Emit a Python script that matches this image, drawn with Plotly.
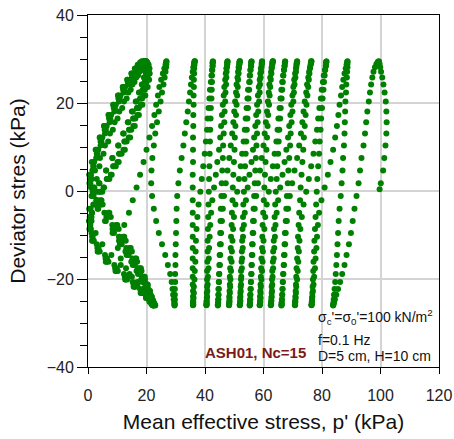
import plotly.graph_objects as go

# Deviator stress sampled through one unloading half-cycle (peak -> trough), kPa.
# Three sample phases, since the logger clock drifts against the loading period.
Q_UNLOAD = [29.5, 29.35, 28.89, 28.14, 27.10, 25.78, 24.20, 22.37, 20.32, 18.06,
            15.63, 13.04, 10.33, 7.52, 4.65, 1.75, -1.15, -4.02, -6.83, -9.54,
            -12.13, -14.56, -16.82, -18.87, -20.70, -22.28, -23.60, -24.64, -25.39, -25.85]
Q_RELOAD = [-26.0, -25.85, -25.39, -24.64, -23.60, -22.28, -20.70, -18.87, -16.82, -14.56,
            -12.13, -9.54, -6.83, -4.02, -1.15, 1.75, 4.65, 7.52, 10.33, 13.04,
            15.63, 18.06, 20.32, 22.37, 24.20, 25.78, 27.10, 28.14, 28.89, 29.35]
Q_UNLOAD_B = [29.48, 29.23, 28.68, 27.83, 26.69, 25.28, 23.62, 21.71, 19.59, 17.27,
              14.78, 12.15, 9.40, 6.57, 3.69, 0.78, -2.11, -4.96, -7.74, -10.42,
              -12.95, -15.34, -17.53, -19.51, -21.25, -22.75, -23.98, -24.93, -25.58, -25.93]
Q_RELOAD_B = [-25.98, -25.73, -25.18, -24.33, -23.19, -21.78, -20.12, -18.21, -16.09, -13.77,
              -11.28, -8.65, -5.90, -3.07, -0.19, 2.72, 5.61, 8.46, 11.24, 13.92,
              16.45, 18.84, 21.03, 23.01, 24.75, 26.25, 27.48, 28.43, 29.08, 29.43]
Q_UNLOAD_C = [29.43, 29.08, 28.43, 27.48, 26.25, 24.75, 23.01, 21.03, 18.84, 16.45,
              13.92, 11.24, 8.46, 5.61, 2.72, -0.19, -3.07, -5.90, -8.65, -11.28,
              -13.77, -16.09, -18.21, -20.12, -21.78, -23.19, -24.33, -25.18, -25.73, -25.98]
Q_RELOAD_C = [-25.93, -25.58, -24.93, -23.98, -22.75, -21.25, -19.51, -17.53, -15.34, -12.95,
              -10.42, -7.74, -4.96, -2.11, 0.78, 3.69, 6.57, 9.40, 12.15, 14.78,
              17.27, 19.59, 21.71, 23.62, 25.28, 26.69, 27.83, 28.68, 29.23, 29.48]

# First loading quarter-cycle from the consolidated state
Q_FIRST = [0.4, 1.75, 4.65, 7.52, 10.33, 13.04, 15.63, 18.06, 20.32, 22.37,
           24.20, 25.78, 27.10, 28.14, 28.89, 29.35]
P_FIRST = [99.7, 100.1, 100.9, 101.3, 101.7, 102.0, 102.1, 102.0, 101.8, 101.4,
           101.0, 100.6, 100.2, 99.9, 99.7, 99.5]

# Mean effective stress p' (kPa) along each half-cycle
C01_UNLOAD = [99.4, 99.1, 98.6, 98.1, 97.6, 97.2, 96.8, 96.4, 96.0, 95.5, 95.1, 94.7, 94.2, 93.5, 93.0,
              92.5, 91.8, 91.1, 90.5, 89.9, 89.2, 88.4, 87.7, 86.9, 86.2, 85.5, 84.9, 84.4, 84.1, 83.9]
C01_RELOAD = [83.8, 83.8, 83.9, 84.0, 84.1, 84.3, 84.5, 84.7, 84.9, 85.1, 85.3, 85.5, 85.7, 86.0, 86.4,
              86.7, 87.0, 87.2, 87.5, 87.7, 87.8, 87.9, 88.0, 88.2, 88.3, 88.5, 88.6, 88.7, 88.7, 88.7]
C02_UNLOAD = [88.7, 88.6, 88.4, 88.1, 87.7, 87.3, 86.9, 86.5, 86.0, 85.6, 85.1, 84.5, 83.8, 82.9, 82.0,
              80.9, 79.8, 79.0, 78.6, 78.3, 78.1, 77.8, 77.6, 77.3, 77.1, 76.9, 76.7, 76.6, 76.5, 76.4]
C02_RELOAD = [76.4, 76.5, 76.5, 76.6, 76.7, 76.8, 76.9, 77.0, 77.1, 77.3, 77.4, 77.6, 77.8, 78.0, 78.2,
              78.4, 78.7, 79.0, 79.2, 79.5, 79.7, 80.0, 80.2, 80.5, 80.7, 80.9, 81.1, 81.3, 81.4, 81.5]
C03_UNLOAD = [81.5, 81.4, 81.3, 81.0, 80.6, 80.3, 79.9, 79.6, 79.1, 78.7, 78.3, 77.7, 77.1, 76.3, 75.5,
              74.6, 73.7, 73.1, 72.6, 72.3, 72.1, 71.9, 71.7, 71.5, 71.2, 71.1, 71.0, 70.9, 70.8, 70.8]
C03_RELOAD = [70.7, 70.8, 70.8, 70.9, 71.0, 71.1, 71.2, 71.3, 71.5, 71.7, 71.8, 72.0, 72.2, 72.5, 72.7,
              73.0, 73.3, 73.6, 73.8, 74.1, 74.4, 74.7, 75.0, 75.3, 75.5, 75.7, 75.9, 76.1, 76.2, 76.3]
C04_UNLOAD = [76.4, 76.3, 76.2, 75.9, 75.6, 75.3, 74.9, 74.6, 74.1, 73.7, 73.3, 72.8, 72.2, 71.5, 70.6,
              69.8, 69.0, 68.4, 68.0, 67.6, 67.4, 67.2, 67.0, 66.8, 66.6, 66.5, 66.4, 66.3, 66.2, 66.2]
C04_RELOAD = [66.1, 66.2, 66.2, 66.3, 66.4, 66.5, 66.6, 66.7, 66.9, 67.0, 67.2, 67.3, 67.6, 67.8, 68.0,
              68.3, 68.5, 68.8, 69.1, 69.3, 69.6, 69.9, 70.2, 70.4, 70.6, 70.9, 71.1, 71.2, 71.3, 71.5]
C05_UNLOAD = [71.5, 71.4, 71.3, 71.1, 70.8, 70.5, 70.2, 69.9, 69.5, 69.2, 68.8, 68.4, 67.8, 67.2, 66.5,
              65.7, 65.0, 64.5, 64.1, 63.9, 63.7, 63.5, 63.3, 63.1, 63.0, 62.9, 62.8, 62.7, 62.6, 62.5]
C05_RELOAD = [62.5, 62.6, 62.6, 62.7, 62.8, 62.8, 62.9, 63.0, 63.2, 63.3, 63.5, 63.6, 63.8, 64.0, 64.2,
              64.5, 64.7, 65.0, 65.2, 65.4, 65.7, 65.9, 66.2, 66.4, 66.6, 66.8, 67.0, 67.2, 67.3, 67.4]
C06_UNLOAD = [67.4, 67.3, 67.2, 67.0, 66.7, 66.4, 66.1, 65.8, 65.5, 65.1, 64.8, 64.4, 63.8, 63.2, 62.5,
              61.8, 61.1, 60.6, 60.3, 60.0, 59.8, 59.7, 59.5, 59.3, 59.1, 59.0, 59.0, 58.9, 58.8, 58.7]
C06_RELOAD = [58.7, 58.8, 58.8, 58.8, 58.9, 59.0, 59.1, 59.2, 59.3, 59.5, 59.6, 59.7, 59.9, 60.1, 60.3,
              60.5, 60.7, 61.0, 61.2, 61.4, 61.6, 61.9, 62.1, 62.3, 62.5, 62.7, 62.8, 63.0, 63.1, 63.2]
C07_UNLOAD = [63.2, 63.1, 63.0, 62.8, 62.6, 62.3, 62.0, 61.8, 61.5, 61.2, 60.8, 60.4, 60.0, 59.4, 58.8,
              58.1, 57.5, 57.0, 56.7, 56.5, 56.3, 56.2, 56.0, 55.9, 55.7, 55.6, 55.5, 55.5, 55.4, 55.3]
C07_RELOAD = [55.3, 55.3, 55.4, 55.4, 55.5, 55.6, 55.7, 55.8, 55.9, 56.0, 56.1, 56.3, 56.4, 56.6, 56.8,
              57.0, 57.2, 57.4, 57.6, 57.8, 58.0, 58.2, 58.5, 58.7, 58.8, 59.0, 59.2, 59.3, 59.4, 59.5]
C08_UNLOAD = [59.5, 59.4, 59.4, 59.1, 58.9, 58.7, 58.4, 58.1, 57.8, 57.5, 57.2, 56.8, 56.4, 55.9, 55.2,
              54.6, 54.0, 53.6, 53.3, 53.0, 52.9, 52.7, 52.6, 52.4, 52.3, 52.2, 52.1, 52.1, 52.0, 51.9]
C08_RELOAD = [51.9, 51.9, 52.0, 52.0, 52.1, 52.2, 52.3, 52.3, 52.5, 52.6, 52.7, 52.8, 53.0, 53.1, 53.3,
              53.5, 53.7, 53.9, 54.1, 54.3, 54.5, 54.7, 54.9, 55.1, 55.3, 55.4, 55.6, 55.7, 55.8, 55.9]
C09_UNLOAD = [55.9, 55.8, 55.8, 55.5, 55.3, 55.1, 54.7, 54.5, 54.2, 53.9, 53.6, 53.2, 52.7, 52.2, 51.6,
              51.0, 50.4, 49.9, 49.6, 49.4, 49.2, 49.1, 48.9, 48.7, 48.6, 48.5, 48.4, 48.4, 48.3, 48.2]
C09_RELOAD = [48.2, 48.2, 48.3, 48.3, 48.4, 48.5, 48.5, 48.6, 48.7, 48.8, 48.9, 49.1, 49.2, 49.4, 49.5,
              49.7, 49.9, 50.1, 50.2, 50.4, 50.6, 50.8, 51.0, 51.2, 51.3, 51.5, 51.6, 51.7, 51.8, 51.9]
C10_UNLOAD = [51.9, 51.8, 51.8, 51.5, 51.3, 51.1, 50.8, 50.6, 50.3, 50.0, 49.7, 49.3, 48.8, 48.3, 47.7,
              47.1, 46.5, 46.1, 45.8, 45.5, 45.4, 45.2, 45.1, 44.9, 44.8, 44.7, 44.6, 44.6, 44.5, 44.4]
C10_RELOAD = [44.4, 44.4, 44.5, 44.5, 44.6, 44.6, 44.7, 44.8, 44.9, 45.0, 45.1, 45.2, 45.3, 45.4, 45.6,
              45.7, 45.9, 46.1, 46.2, 46.4, 46.6, 46.7, 46.9, 47.0, 47.2, 47.3, 47.4, 47.5, 47.6, 47.7]
C11_UNLOAD = [47.7, 47.6, 47.6, 47.3, 47.1, 46.9, 46.6, 46.4, 46.1, 45.8, 45.5, 45.2, 44.8, 44.2, 43.7,
              43.1, 42.5, 42.1, 41.8, 41.6, 41.4, 41.3, 41.2, 41.0, 40.9, 40.8, 40.7, 40.6, 40.6, 40.5]
C11_RELOAD = [40.5, 40.5, 40.5, 40.6, 40.6, 40.7, 40.7, 40.7, 40.8, 40.9, 40.9, 41.0, 41.1, 41.2, 41.3,
              41.4, 41.5, 41.6, 41.7, 41.8, 41.9, 42.0, 42.2, 42.3, 42.4, 42.4, 42.5, 42.6, 42.6, 42.7]
C12_UNLOAD = [42.7, 42.6, 42.6, 42.4, 42.2, 42.0, 41.7, 41.5, 41.2, 40.9, 40.7, 40.3, 39.9, 39.4, 38.9,
              38.4, 37.8, 37.4, 37.1, 36.9, 36.8, 36.7, 36.5, 36.4, 36.2, 36.2, 36.1, 36.0, 36.0, 35.9]
C12_RELOAD = [35.9, 35.9, 35.9, 35.9, 35.9, 35.8, 35.8, 35.8, 35.8, 35.8, 35.8, 35.8, 35.8, 35.8, 35.8,
              35.8, 35.9, 35.9, 35.9, 36.0, 36.0, 36.1, 36.1, 36.2, 36.2, 36.3, 36.3, 36.4, 36.4, 36.5]
C13_UNLOAD = [36.5, 36.4, 36.2, 36.0, 35.8, 35.5, 35.2, 34.9, 34.5, 34.1, 33.6, 33.1, 32.6, 32.0, 31.4,
              30.9, 30.5, 30.3, 30.2, 30.1, 30.0, 29.9, 29.9, 29.8, 29.8, 29.7, 29.7, 29.7, 29.6, 29.6]
C13_RELOAD = [29.6, 29.6, 29.5, 29.3, 29.1, 28.9, 28.6, 28.1, 27.3, 26.4, 25.3, 24.2, 23.3, 22.5, 21.9,
              21.6, 21.7, 22.0, 22.5, 23.0, 23.6, 24.2, 24.8, 25.3, 25.8, 26.2, 26.5, 26.7, 26.8, 26.8]
C14_UNLOAD = [26.8, 26.7, 26.5, 26.1, 25.6, 25.0, 24.4, 23.9, 23.3, 22.7, 21.9, 21.0, 20.0, 19.0, 17.8,
              16.6, 15.3, 14.0, 12.4, 10.6, 10.2, 11.2, 13.0, 15.0, 16.9, 18.6, 20.0, 21.1, 21.9, 22.3]
C14_RELOAD = [22.5, 22.4, 22.1, 21.5, 20.7, 19.6, 18.2, 16.6, 14.8, 12.8, 10.6, 8.4, 6.3, 4.5, 3.3,
              3.0, 3.9, 5.3, 6.9, 8.5, 10.1, 11.7, 13.2, 14.6, 15.9, 17.1, 18.1, 18.9, 19.5, 19.9]

# Post-liquefaction butterfly loops
B1_UNLOAD = [20.0, 20.2, 20.4, 20.5, 20.4, 20.0, 19.4, 18.5, 17.4, 16.2, 14.8, 13.2, 11.5, 9.5, 7.3,
             4.9, 2.6, 1.2, 1.0, 2.0, 4.0, 7.0, 10.2, 13.4, 16.2, 18.5, 20.2, 21.3, 22.0, 22.4]
B1_RELOAD = [22.5, 22.4, 22.1, 21.7, 21.1, 20.3, 19.2, 17.8, 16.2, 14.3, 12.1, 9.6, 6.9, 4.2, 1.9,
             0.9, 2.1, 3.5, 4.9, 6.4, 7.9, 9.5, 11.1, 12.7, 14.2, 15.6, 16.8, 17.8, 18.6, 19.3]
B2_UNLOAD = [19.6, 19.8, 19.9, 19.9, 19.6, 19.1, 18.4, 17.4, 16.3, 15.0, 13.6, 12.0, 10.3, 8.3, 6.2,
             3.9, 1.9, 0.9, 1.2, 2.6, 4.9, 8.0, 11.2, 14.2, 16.9, 19.0, 20.6, 21.7, 22.4, 22.8]
B2_RELOAD = [23.0, 22.9, 22.6, 22.1, 21.4, 20.5, 19.3, 17.8, 16.0, 13.9, 11.5, 8.9, 6.1, 3.5, 1.5,
             0.8, 2.4, 4.1, 5.8, 7.5, 9.1, 10.7, 12.3, 13.8, 15.2, 16.5, 17.6, 18.5, 19.1, 19.5]
B3_UNLOAD = [19.8, 20.1, 20.6, 21.0, 21.1, 20.9, 20.4, 19.6, 18.6, 17.4, 16.0, 14.4, 12.6, 10.5, 8.1,
             5.5, 3.0, 1.4, 0.8, 1.4, 3.2, 6.0, 9.3, 12.6, 15.6, 18.1, 19.9, 21.1, 21.8, 22.2]
B3_RELOAD = [22.3, 22.2, 22.0, 21.6, 21.1, 20.4, 19.5, 18.3, 16.8, 15.0, 12.9, 10.5, 7.8, 5.0, 2.5,
             1.3, 1.9, 3.0, 4.3, 5.7, 7.2, 8.8, 10.4, 12.0, 13.6, 15.1, 16.4, 17.5, 18.4, 19.1]
B4_UNLOAD = [19.6, 19.9, 20.2, 20.3, 20.1, 19.6, 18.9, 18.0, 16.9, 15.6, 14.2, 12.6, 10.8, 8.8, 6.6,
             4.2, 2.1, 0.8, 0.6, 1.5, 3.4, 6.3, 9.6, 12.9, 15.9, 18.3, 20.1, 21.3, 22.0, 22.5]
B4_RELOAD = [22.6, 22.5, 22.2, 21.8, 21.2, 20.4, 19.4, 18.1, 16.5, 14.6, 12.4, 10.0, 7.3, 4.6, 2.2,
             1.0, 1.7, 2.8, 4.1, 5.5, 7.0, 8.6, 10.3, 11.9, 13.5, 15.0, 16.3, 17.4, 18.3, 19.0]
B5_UNLOAD = [19.2, 19.5, 19.8, 19.9, 19.7, 19.3, 18.6, 17.7, 16.6, 15.3, 13.8, 12.2, 10.4, 8.4, 6.2,
             3.8, 1.6, 0.4, 0.3, 1.2, 3.0, 5.8, 9.0, 12.3, 15.3, 17.8, 19.7, 21.0, 21.8, 22.2]
B5_RELOAD = [22.3, 22.2, 21.9, 21.4, 20.7, 19.8, 18.6, 17.1, 15.3, 13.2, 10.9, 8.4, 5.8, 3.3, 1.2,
             0.5, 1.5, 2.8, 4.3, 5.8, 7.4, 9.0, 10.6, 12.2, 13.7, 15.1, 16.3, 17.3, 18.1, 18.7]
B6_UNLOAD = [19.9, 20.3, 20.7, 20.9, 20.8, 20.5, 19.9, 19.1, 18.1, 16.9, 15.5, 13.9, 12.1, 10.1, 7.8,
             5.3, 2.9, 1.3, 0.7, 1.6, 3.6, 6.5, 9.8, 13.0, 15.9, 18.3, 20.0, 21.2, 21.9, 22.3]
B6_RELOAD = [22.4, 22.3, 22.0, 21.5, 20.9, 20.1, 19.0, 17.6, 15.9, 13.9, 11.7, 9.2, 6.5, 3.8, 1.6,
             0.6, 1.8, 3.2, 4.6, 6.1, 7.6, 9.2, 10.8, 12.4, 13.9, 15.3, 16.6, 17.6, 18.5, 19.2]
B7_UNLOAD = [19.4, 19.7, 20.0, 20.1, 19.9, 19.4, 18.7, 17.8, 16.7, 15.4, 14.0, 12.4, 10.6, 8.6, 6.4,
             4.0, 1.8, 0.6, 0.5, 1.4, 3.3, 6.1, 9.4, 12.7, 15.6, 18.0, 19.8, 21.0, 21.7, 22.1]
B7_RELOAD = [22.2, 22.1, 21.8, 21.3, 20.6, 19.7, 18.5, 17.0, 15.2, 13.1, 10.8, 8.3, 5.6, 3.0, 1.0,
             0.4, 1.3, 2.6, 4.0, 5.5, 7.1, 8.7, 10.3, 11.9, 13.4, 14.8, 16.0, 17.0, 17.8, 18.4]

X_TICKS = [0, 20, 40, 60, 80, 100, 120]
Y_TICKS = [-40, -20, 0, 20, 40]

SAMPLE_PHASES = [(Q_UNLOAD, Q_RELOAD), (Q_UNLOAD_B, Q_RELOAD_B), (Q_UNLOAD_C, Q_RELOAD_C)]

CYCLES = [
    (C01_UNLOAD, C01_RELOAD), (C02_UNLOAD, C02_RELOAD), (C03_UNLOAD, C03_RELOAD),
    (C04_UNLOAD, C04_RELOAD), (C05_UNLOAD, C05_RELOAD), (C06_UNLOAD, C06_RELOAD),
    (C07_UNLOAD, C07_RELOAD), (C08_UNLOAD, C08_RELOAD), (C09_UNLOAD, C09_RELOAD),
    (C10_UNLOAD, C10_RELOAD), (C11_UNLOAD, C11_RELOAD), (C12_UNLOAD, C12_RELOAD),
    (C13_UNLOAD, C13_RELOAD), (C14_UNLOAD, C14_RELOAD),
    (B1_UNLOAD, B1_RELOAD), (B2_UNLOAD, B2_RELOAD), (B3_UNLOAD, B3_RELOAD),
    (B4_UNLOAD, B4_RELOAD), (B5_UNLOAD, B5_RELOAD), (B6_UNLOAD, B6_RELOAD),
    (B7_UNLOAD, B7_RELOAD),
]

path_p = list(P_FIRST)
path_q = list(Q_FIRST)
for i, (unload, reload) in enumerate(CYCLES):
    q_down, q_up = SAMPLE_PHASES[i % 3]
    path_p += unload
    path_q += q_down
    path_p += reload
    path_q += q_up

FONT = "Liberation Sans, Arial, sans-serif"

fig = go.Figure(go.Scatter(
    x=path_p, y=path_q, mode="markers",
    marker=dict(size=6, color="#008000", line=dict(width=0)),
    cliponaxis=False, hoverinfo="skip",
))

axis_common = dict(
    showline=True, linecolor="black", linewidth=1, mirror=True,
    ticks="outside", tickcolor="black", tickwidth=1,
    showgrid=True, gridcolor="#d4d4d4", gridwidth=1.5,
    zeroline=False, automargin=False,
    tickfont=dict(family=FONT, size=16, color="#222"),
)

fig.update_xaxes(
    range=[0, 120], tickvals=X_TICKS, ticklen=6, ticklabelstandoff=8,
    title=dict(text="Mean effective stress, p' (kPa)",
               font=dict(family=FONT, size=21, color="#111"), standoff=11),
    **axis_common,
)
fig.update_yaxes(
    range=[-40, 40], tickvals=Y_TICKS, ticklen=10,
    minor=dict(dtick=5, tick0=0, ticks="outside", ticklen=7, tickcolor="black", showgrid=False),
    title=dict(text="Deviator stres (kPa)",
               font=dict(family=FONT, size=21, color="#111"), standoff=15),
    **axis_common,
)

fig.add_annotation(x=57.3, y=-36.7, text="<b>ASH01, Nc=15</b>", showarrow=False,
                   xanchor="center", yanchor="middle",
                   font=dict(family=FONT, size=15, color="#7a1a1a"))
fig.add_annotation(x=77.8, y=-31.4, text="σ<sub>c</sub>'=σ<sub>0</sub>'=100 kN/m<sup>2</sup>",
                   showarrow=False, xanchor="left", yanchor="bottom",
                   font=dict(family=FONT, size=14, color="#111"))
for label, yv in [("f=0.1 Hz", -33.8), ("D=5 cm, H=10 cm", -37.4)]:
    fig.add_annotation(x=77.8, y=yv, text=label, showarrow=False,
                       xanchor="left", yanchor="middle",
                       font=dict(family=FONT, size=14, color="#111"))

fig.update_layout(
    width=454, height=439, template="none",
    margin=dict(l=88, r=15, t=15, b=72),
    plot_bgcolor="white", paper_bgcolor="white",
    showlegend=False,
    font=dict(family=FONT, color="black"),
)

fig.write_html("out.html")
